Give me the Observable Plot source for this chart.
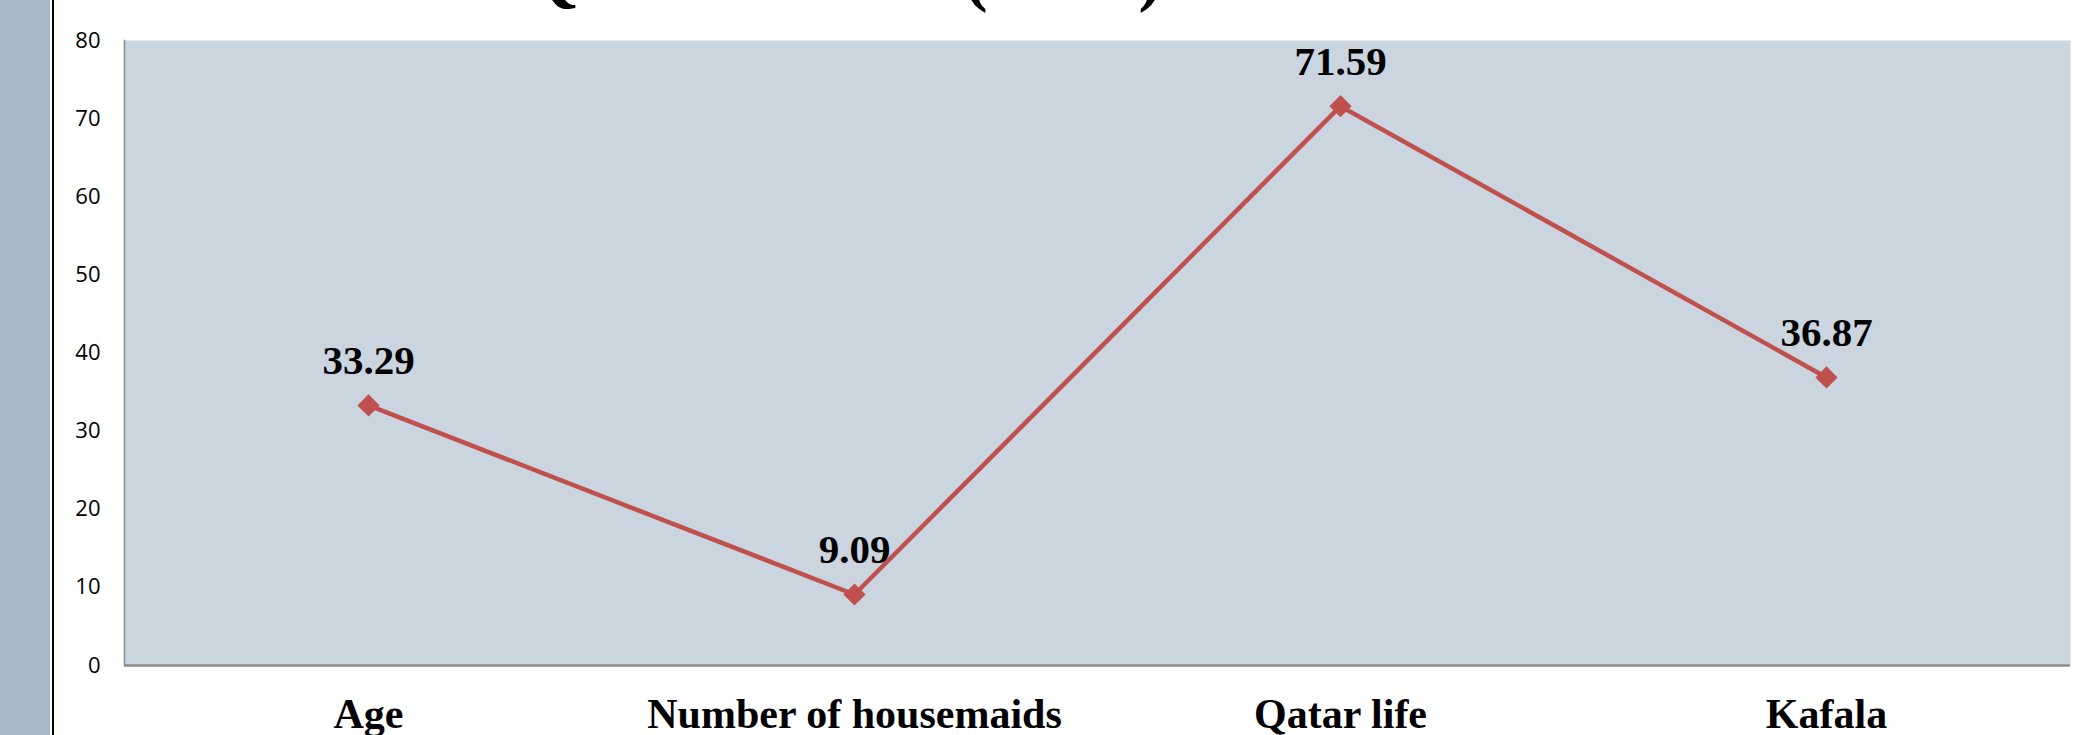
<!DOCTYPE html>
<html>
<head>
<meta charset="utf-8">
<script src="https://cdn.jsdelivr.net/npm/d3@7"></script>
<script src="https://cdn.jsdelivr.net/npm/@observablehq/plot@0.6"></script>
<style>
  html, body { margin: 0; padding: 0; background: #fff; overflow: hidden; }
  #wrap { position: relative; width: 2085px; height: 735px; }
  #strip { position: absolute; left: 0; top: 0; width: 50px; height: 735px; background: #a9b9c9; }
  #vline { position: absolute; left: 52px; top: 0; width: 2px; height: 735px; background: #000; }
  #title { position: absolute; left: 524px; top: -60px; font-family: "Liberation Serif", serif; font-weight: bold; font-size: 70px; line-height: 70px; white-space: nowrap; color: #000; }
  #title .p { letter-spacing: -4px; }
  #chart { position: absolute; left: 0; top: 0; }
</style>
</head>
<body>
<div id="wrap">
  <div id="strip"></div>
  <div id="vline"></div>
  <div id="chart"></div>
  <div id="title">Questionnaire <span class="p">(Mean</span>)</div>
</div>
<script>
const categories = ["Age", "Number of housemaids", "Qatar life", "Kafala"];
const values = [33.29, 9.09, 71.59, 36.87];
const yTicks = [0, 10, 20, 30, 40, 50, 60, 70, 80];

const data = categories.map((c, i) => ({category: c, value: values[i]}));
const fmt = d3.format(".2f");

const chart = Plot.plot({
  width: 2085,
  height: 735,
  marginLeft: 124,
  marginRight: 15,
  marginTop: 40,
  marginBottom: 70,
  style: {background: "transparent", overflow: "visible"},
  x: {type: "point", domain: categories, padding: 0.5},
  y: {domain: [0, 80]},
  marks: [
    Plot.frame({fill: "#cbd5df", stroke: null}),
    Plot.frame({anchor: "left", stroke: "#8c8c8c", strokeWidth: 1.5}),
    Plot.ruleY([0], {stroke: "#8c8c8c", strokeWidth: 2.5}),
    Plot.axisY({ticks: yTicks, tickSize: 0, tickPadding: 24, fontSize: 22, fontFamily: "'Open Sans', sans-serif", fill: "#000", label: null}),
    Plot.axisX({tickSize: 0, tickPadding: 33, fontSize: 42, fontFamily: "'Liberation Serif', serif", fontWeight: "bold", fill: "#000", label: null}),
    Plot.line(data, {x: "category", y: "value", stroke: "#c0504d", strokeWidth: 4.5}),
    Plot.dot(data, {x: "category", y: "value", symbol: "diamond2", r: 10, fill: "#c0504d", stroke: null}),
    Plot.text(data, {x: "category", y: "value", text: d => fmt(d.value), dy: -31, lineAnchor: "bottom", fontSize: 41, fontFamily: "'Liberation Serif', serif", fontWeight: "bold", fill: "#000"})
  ]
});
document.getElementById("chart").appendChild(chart);
</script>
</body>
</html>
